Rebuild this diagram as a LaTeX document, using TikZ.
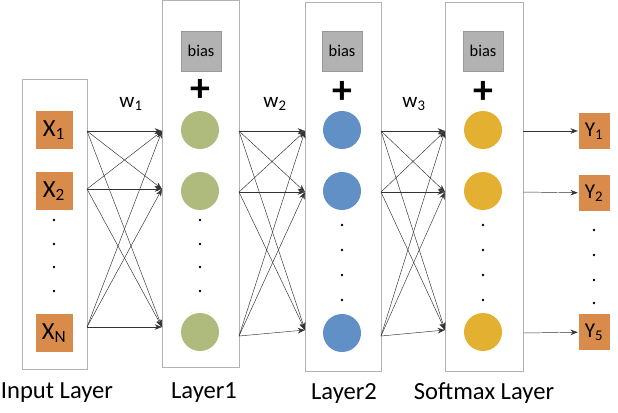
\documentclass[tikz,border=0pt]{standalone}
\usepackage{fontspec}
\setmainfont{Carlito}
\usetikzlibrary{arrows.meta}

\definecolor{boxorange}{HTML}{D98B4C}
\definecolor{hidgreen}{HTML}{AEBB7C}
\definecolor{hidblue}{HTML}{6090C6}
\definecolor{softgold}{HTML}{E4B031}

\tikzset{
    inp/.style={rectangle, draw=white, fill=boxorange, minimum width=1.14cm, minimum height=1.17cm, font=\fontsize{21}{21}\selectfont},
    outp/.style={rectangle, draw=white, fill=boxorange, minimum width=0.96cm, minimum height=1.1cm, font=\fontsize{18}{18}\selectfont},
    neuron/.style={circle, minimum size=1.14cm, fill=#1},
    bias/.style={rectangle, draw=black!40, fill=black!30, minimum width=1.2cm, minimum height=1.2cm, font=\fontsize{14}{14}\selectfont},
    conn/.style={-{Stealth[length=2.2mm]}, black!80, thin},
    wlbl/.style={font=\fontsize{18}{18}\selectfont},
    lbl/.style={font=\fontsize{21}{21}\selectfont}
}

\begin{document}
\begin{tikzpicture}[x={(0.03cm,0)}, y={(0,-0.03cm)}]
    \useasboundingbox (0,0) rectangle (618,412);

    % layer frames
    \draw [black!30, fill=white] (22,79) rectangle (87,369);
    \draw [black!30, fill=white] (162,0) rectangle (239,367);
    \draw [black!30, fill=white] (305,2) rectangle (381,371);
    \draw [black!30, fill=white] (445,2) rectangle (523,371);

    % input layer
    \node [inp] (x1) at (54,130) {X\textsubscript{1}};
    \node [inp] (x2) at (54,191) {X\textsubscript{2}};
    \node [inp] (xn) at (54,333) {X\textsubscript{N}};
    \foreach \y in {220,244,267,291} \fill (54,\y) circle (1.2pt);

    % layer 1
    \node [bias] (b1) at (201,51) {bias};
    \node [font=\fontsize{34}{34}\selectfont\bfseries] (p1) at (200,90) {+};
    \node [neuron=hidgreen] (h1a) at (200,130) {};
    \node [neuron=hidgreen] (h1b) at (200,191) {};
    \node [neuron=hidgreen] (h1n) at (200,332) {};
    \foreach \y in {220,244,267,291} \fill (200,\y) circle (1.2pt);

    % layer 2
    \node [bias] (b2) at (342,51) {bias};
    \node [font=\fontsize{34}{34}\selectfont\bfseries] (p2) at (342,92) {+};
    \node [neuron=hidblue] (h2a) at (342,130) {};
    \node [neuron=hidblue] (h2b) at (342,191) {};
    \node [neuron=hidblue] (h2n) at (342,333) {};
    \foreach \y in {225,250,275,300} \fill (342,\y) circle (1.2pt);

    % softmax layer
    \node [bias] (b3) at (483,51) {bias};
    \node [font=\fontsize{34}{34}\selectfont\bfseries] (p3) at (483,92) {+};
    \node [neuron=softgold] (sa) at (483,130) {};
    \node [neuron=softgold] (sb) at (483,191) {};
    \node [neuron=softgold] (sn) at (483,332) {};
    \foreach \y in {225,250,275,300} \fill (483,\y) circle (1.2pt);

    % outputs
    \node [outp] (y1) at (594,131) {Y\textsubscript{1}};
    \node [outp] (y2) at (594,193) {Y\textsubscript{2}};
    \node [outp] (y5) at (594,332) {Y\textsubscript{5}};
    \foreach \y in {230,255,280,303} \fill (594,\y) circle (1.2pt);

    % anchor points on the frames
    \coordinate (l0a) at (87,131);  \coordinate (l0b) at (87,189);  \coordinate (l0n) at (87,327);
    \coordinate (r1a) at (162,131); \coordinate (r1b) at (162,189); \coordinate (r1n) at (162,327);
    \coordinate (l1a) at (239,131); \coordinate (l1b) at (239,192); \coordinate (l1n) at (239,336);
    \coordinate (r2a) at (305,131); \coordinate (r2b) at (305,192); \coordinate (r2n) at (305,330);
    \coordinate (l2a) at (381,131); \coordinate (l2b) at (381,192); \coordinate (l2n) at (381,336);
    \coordinate (r3a) at (445,131); \coordinate (r3b) at (445,192); \coordinate (r3n) at (445,330);
    \coordinate (l3a) at (523,131); \coordinate (l3b) at (523,192); \coordinate (l3n) at (523,333);

    % weights
    \foreach \s in {a,b,n} {
        \foreach \t in {a,b,n} {
            \draw [conn] (l0\s) -- (r1\t);
            \draw [conn] (l1\s) -- (r2\t);
            \draw [conn] (l2\s) -- (r3\t);
        }
    }
    \draw [conn] (l3a) -- (y1);
    \draw [conn] (l3b) -- (y2);
    \draw [conn] (l3n) -- (y5);

    \node [wlbl] (w1) at (131,104) {w\textsubscript{1}};
    \node [wlbl] (w2) at (275,104) {w\textsubscript{2}};
    \node [wlbl] (w3) at (414,104) {w\textsubscript{3}};

    % layer names
    \node [lbl] (n0) at (57,393) {Input Layer};
    \node [lbl] (n1) at (204,393) {Layer1};
    \node [lbl] (n2) at (344,393) {Layer2};
    \node [lbl] (n3) at (484,393) {Softmax Layer};
\end{tikzpicture}
\end{document}
